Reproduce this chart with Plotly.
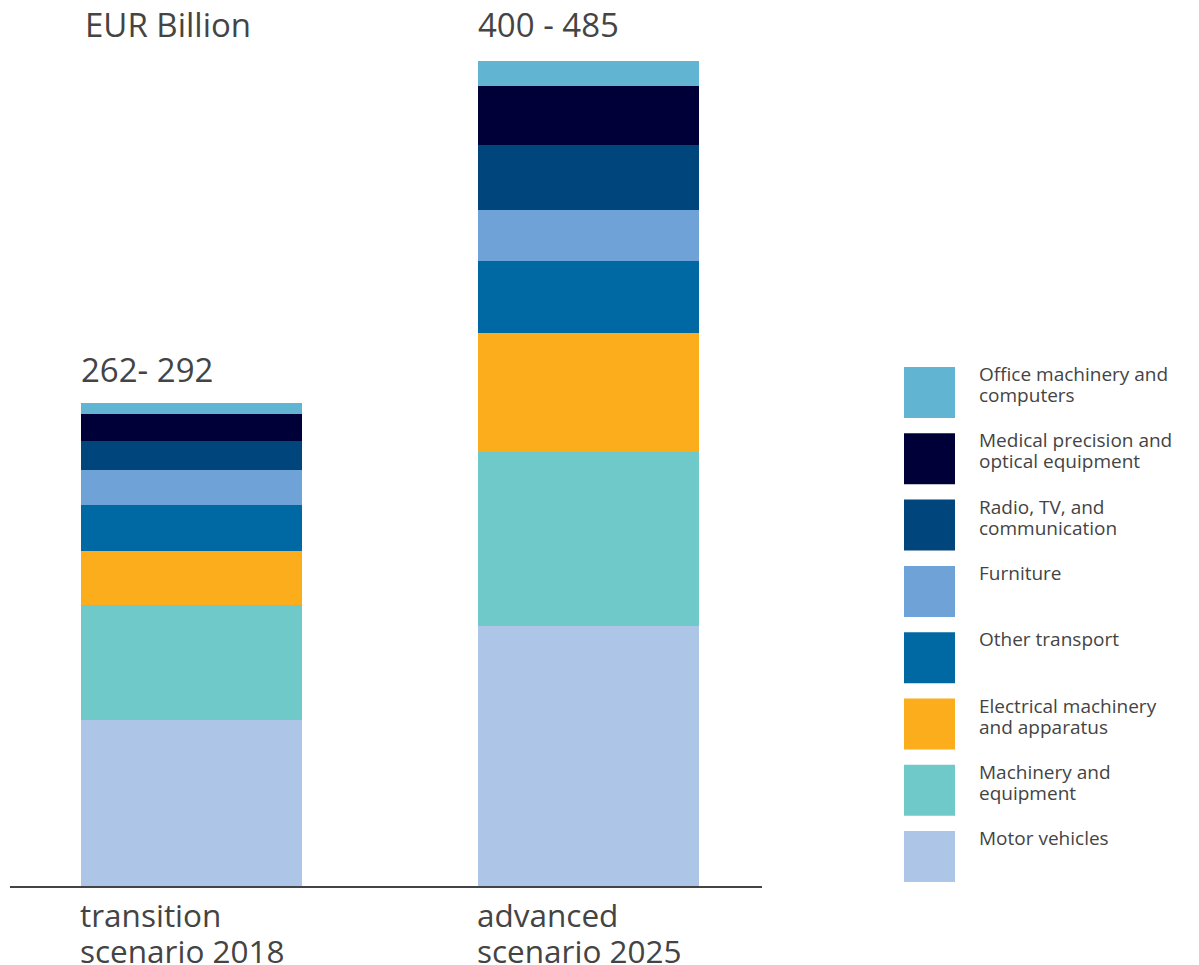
import plotly.graph_objects as go

# ---- Data (EUR billion) ----
scenarios = ["transition scenario 2018", "advanced scenario 2025"]
scenario_labels = [["transition", "scenario 2018"], ["advanced", "scenario 2025"]]
range_labels = ["262- 292", "400 - 485"]

# bottom -> top stacking order
sectors = [
    "Motor vehicles",
    "Machinery and equipment",
    "Electrical machinery and apparatus",
    "Other transport",
    "Furniture",
    "Radio, TV, and communication",
    "Medical precision and optical equipment",
    "Office machinery and computers",
]
legend_labels = [
    ["Motor vehicles"],
    ["Machinery and", "equipment"],
    ["Electrical machinery", "and apparatus"],
    ["Other transport"],
    ["Furniture"],
    ["Radio, TV, and", "communication"],
    ["Medical precision and", "optical equipment"],
    ["Office machinery and", "computers"],
]
values_2018 = [97.6, 67.6, 31.7, 27.0, 20.6, 17.2, 15.5, 6.5]
values_2025 = [152.8, 102.3, 70.0, 42.3, 30.0, 38.2, 34.7, 14.7]
colors = ["#adc6e8", "#6fc9c8", "#fcad1c", "#0069a3", "#6fa2d6", "#00457c", "#000038", "#62b5d2"]

# ---- Layout geometry (page has an 8px body offset) ----
OFF = 8
W, H = 1199 - OFF, 965 - OFF
ML, MR, MT, MB = 10 - OFF, 437, 20 - OFF, 79
PW, PH = W - ML - MR, H - MT - MB
YMAX = 509.1
BAR_W = 0.557
TXT = "#444444"
FONT = "Open Sans"


def px(x):
    return (x - OFF - ML) / PW


def py(y):
    return (H - MB - (y - OFF)) / PH


fig = go.Figure()
for i, s in enumerate(sectors):
    fig.add_trace(go.Bar(
        x=scenarios,
        y=[values_2018[i], values_2025[i]],
        name=s,
        marker=dict(color=colors[i], line=dict(width=0)),
        width=BAR_W,
        showlegend=False,
        hoverinfo="name+y",
    ))

annotations = []
shapes = []

# totals above bars
totals = [sum(values_2018), sum(values_2025)]
label_shift = [9, 12]
for j, sc in enumerate(scenarios):
    annotations.append(dict(
        x=j - BAR_W / 2, xref="x", xanchor="left", xshift=-2,
        y=totals[j], yref="y", yanchor="bottom", yshift=label_shift[j],
        text=range_labels[j], showarrow=False,
        font=dict(family=FONT, size=33, color=TXT),
    ))
    for li, line in enumerate(scenario_labels[j]):
        annotations.append(dict(
            x=j - BAR_W / 2, xref="x", xanchor="left", xshift=-3,
            y=py(914 + li * 36), yref="paper", yanchor="middle",
            text=line, showarrow=False, align="left",
            font=dict(family=FONT, size=31.5, color=TXT),
        ))

annotations.append(dict(
    x=px(83), xref="paper", xanchor="left",
    y=py(24), yref="paper", yanchor="middle",
    text="EUR Billion", showarrow=False,
    font=dict(family=FONT, size=33, color=TXT),
))

# custom legend (top -> bottom)
sw_top0, sw_step, sw_size = 367, 66.3, 51
for k, idx in enumerate(reversed(range(len(sectors)))):
    top = sw_top0 + k * sw_step
    shapes.append(dict(
        type="rect", xref="paper", yref="paper",
        x0=px(904), x1=px(904 + sw_size),
        y0=py(top), y1=py(top + sw_size),
        fillcolor=colors[idx], line=dict(width=0),
    ))
    for li, line in enumerate(legend_labels[idx]):
        annotations.append(dict(
            x=px(978), xref="paper", xanchor="left",
            y=py(top + 7 + li * 21), yref="paper", yanchor="middle",
            text=line, showarrow=False, align="left",
            font=dict(family=FONT, size=19, color=TXT),
            borderpad=0,
        ))

fig.update_layout(
    width=W, height=H,
    margin=dict(l=ML, r=MR, t=MT, b=MB),
    paper_bgcolor="white", plot_bgcolor="white",
    barmode="stack",
    bargap=0,
    xaxis=dict(
        type="category", range=[-0.457, 1.437],
        showticklabels=False, ticks="", showgrid=False, zeroline=False,
        showline=True, linecolor="#444444", linewidth=2,
    ),
    yaxis=dict(
        range=[0, YMAX], visible=False, showgrid=False, zeroline=False,
    ),
    annotations=annotations,
    shapes=shapes,
    showlegend=False,
)

fig.write_html("out.html")
